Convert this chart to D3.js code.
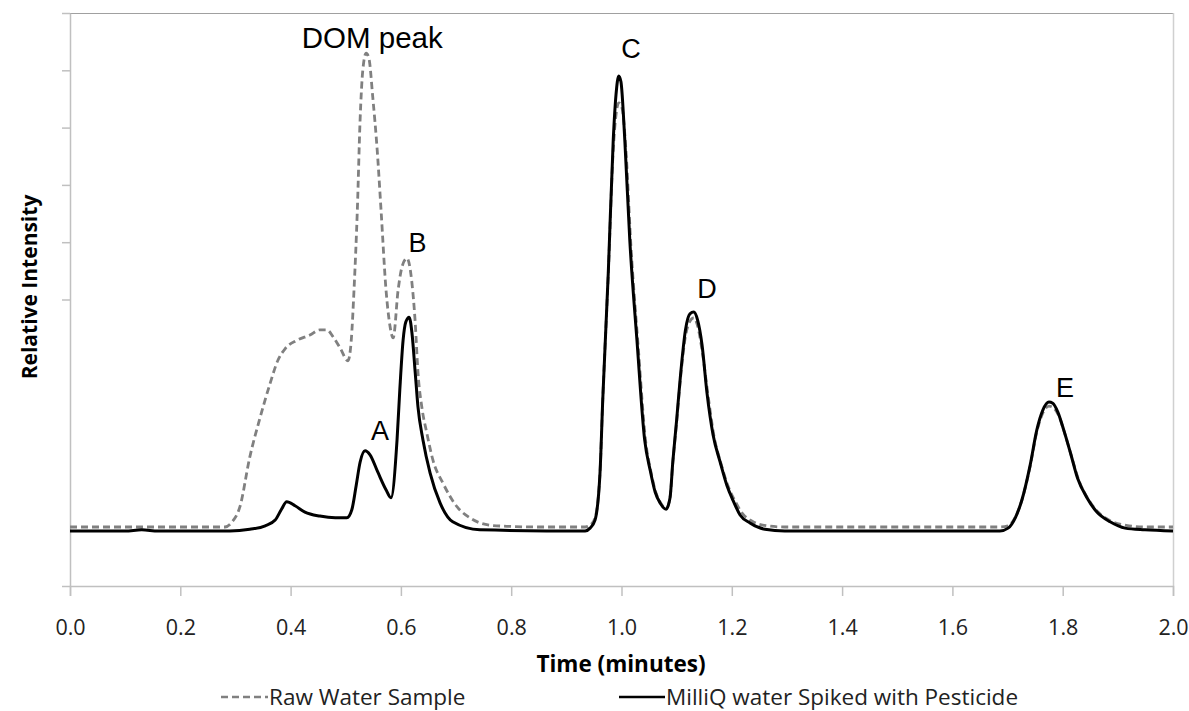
<!DOCTYPE html>
<html>
<head>
<meta charset="utf-8">
<script src="https://cdn.jsdelivr.net/npm/d3@7/dist/d3.min.js"></script>
<style>
  html, body { margin: 0; padding: 0; background: #ffffff; }
  svg { display: block; }
</style>
</head>
<body>
<svg id="chart" width="1189" height="711"></svg>
<script>
// ---- data (time in minutes, relative intensity) ----
const xTickValues = [0.0, 0.2, 0.4, 0.6, 0.8, 1.0, 1.2, 1.4, 1.6, 1.8, 2.0];
const yTickValues = [0, 5, 6, 7, 8, 9, 10];

const seriesNames = ["Raw Water Sample", "MilliQ water Spiked with Pesticide"];

const rawTime = [0, 0.281, 0.294, 0.308, 0.326, 0.345, 0.363, 0.377, 0.390, 0.412, 0.435, 0.453, 0.466, 0.477, 0.490, 0.504,
  0.510, 0.515, 0.521, 0.526, 0.531, 0.537, 0.542, 0.549, 0.557, 0.564, 0.573, 0.580, 0.586, 0.595, 0.602, 0.611,
  0.620, 0.626, 0.631, 0.638, 0.647, 0.658, 0.676, 0.702, 0.725, 0.762, 0.798, 0.852, 0.934,
  0.943, 0.952, 0.961, 0.966, 0.976, 0.985, 0.990, 0.995, 1.001, 1.008, 1.017, 1.030, 1.044, 1.053, 1.062, 1.071, 1.081,
  1.088, 1.093, 1.100, 1.107, 1.116, 1.124, 1.131, 1.138, 1.146, 1.157, 1.168, 1.180, 1.193, 1.206, 1.219, 1.237, 1.264, 1.296,
  1.686, 1.701, 1.714, 1.726, 1.741, 1.753, 1.764, 1.775, 1.782, 1.793, 1.804, 1.817, 1.829, 1.846, 1.864, 1.888, 1.915, 1.949, 2.0];
const rawValue = [1.03, 1.03, 1.12, 1.38, 2.25, 2.95, 3.54, 3.94, 4.14, 4.29, 4.38, 4.47, 4.47, 4.35, 4.15, 3.93,
  4.29, 5.17, 6.56, 8.13, 9.01, 9.30, 9.21, 8.53, 7.61, 6.56, 5.17, 4.55, 4.33, 5.17, 5.57, 5.72,
  5.29, 4.59, 3.72, 3.12, 2.67, 2.20, 1.80, 1.38, 1.19, 1.06, 1.04, 1.03, 1.03,
  1.06, 1.19, 1.97, 3.25, 5.43, 7.61, 8.22, 8.43, 8.34, 7.61, 5.95, 4.21, 2.51, 2.01, 1.64, 1.45, 1.36,
  1.54, 2.15, 2.86, 3.63, 4.36, 4.62, 4.68, 4.54, 4.12, 3.32, 2.60, 2.15, 1.75, 1.48, 1.27, 1.13, 1.05, 1.03,
  1.03, 1.05, 1.20, 1.50, 2.09, 2.69, 3.02, 3.14, 3.12, 2.97, 2.65, 2.23, 1.85, 1.52, 1.29, 1.13, 1.06, 1.03, 1.03];

const spikedTime = [0, 0.10, 0.13, 0.16, 0.290, 0.326, 0.354, 0.372, 0.383, 0.393, 0.408, 0.426, 0.453, 0.481, 0.502,
  0.511, 0.519, 0.526, 0.535, 0.544, 0.558, 0.573, 0.582, 0.593, 0.598, 0.604, 0.609, 0.615,
  0.620, 0.626, 0.631, 0.640, 0.653, 0.671, 0.694, 0.743, 0.934,
  0.943, 0.952, 0.961, 0.966, 0.976, 0.985, 0.990, 0.995, 0.999, 1.006, 1.015, 1.028, 1.042, 1.052, 1.061, 1.070, 1.081,
  1.088, 1.093, 1.100, 1.107, 1.116, 1.124, 1.131, 1.138, 1.146, 1.155, 1.166, 1.179, 1.191, 1.202, 1.215, 1.233, 1.260, 1.296,
  1.686, 1.701, 1.714, 1.726, 1.741, 1.753, 1.764, 1.775, 1.782, 1.791, 1.802, 1.815, 1.827, 1.844, 1.862, 1.886, 1.913, 1.949, 2.0];
const spikedValue = [0.96, 0.96, 0.98, 0.96, 0.96, 0.99, 1.05, 1.15, 1.33, 1.47, 1.40, 1.29, 1.22, 1.19, 1.19,
  1.33, 1.76, 2.16, 2.36, 2.29, 1.99, 1.68, 1.54, 2.55, 3.42, 4.29, 4.61, 4.69,
  4.42, 3.72, 3.12, 2.55, 1.97, 1.45, 1.12, 0.98, 0.96,
  1.01, 1.15, 1.97, 3.25, 5.46, 7.78, 8.57, 8.90, 8.80, 7.78, 6.04, 4.29, 2.55, 2.02, 1.64, 1.45, 1.34,
  1.54, 2.16, 2.90, 3.68, 4.47, 4.75, 4.78, 4.64, 4.21, 3.37, 2.64, 2.16, 1.76, 1.50, 1.24, 1.10, 0.99, 0.96,
  0.96, 1.01, 1.19, 1.50, 2.11, 2.72, 3.07, 3.21, 3.19, 3.04, 2.72, 2.29, 1.88, 1.54, 1.29, 1.12, 1.01, 0.98, 0.96];

const peakLabels = ["DOM peak", "A", "B", "C", "D", "E"];
const peakLabelTime = [0.548, 0.562, 0.630, 1.017, 1.155, 1.804];
const peakLabelValue = [9.39, 2.55, 5.83, 9.21, 5.03, 3.30];

// ---- layout ----
const svg = d3.select("#chart");
const mLeft = 70, mRight = 1173, mTop = 13, mBottom = 586;

const x = d3.scaleLinear().domain([0, 2]).range([mLeft, mRight]);
const y = d3.scaleLinear().domain([0, 10]).range([mBottom, mTop]);

const axisColor = "#c0c0c0";
const font = "'Open Sans', 'Noto Sans', sans-serif";

// plot border (top and right)
svg.append("line").attr("x1", mLeft).attr("x2", mRight).attr("y1", mTop + 0.5).attr("y2", mTop + 0.5)
  .attr("stroke", "#a0a0a0").attr("stroke-width", 1.2);
svg.append("line").attr("x1", mRight + 0.5).attr("x2", mRight + 0.5).attr("y1", mTop).attr("y2", mBottom)
  .attr("stroke", "#d0d0d0").attr("stroke-width", 1.5);

// x axis
const xAxis = svg.append("g").attr("transform", `translate(0,${mBottom})`)
  .call(d3.axisBottom(x).tickValues(xTickValues).tickFormat(d3.format(".1f")).tickSize(10).tickPadding(24));
xAxis.select(".domain").attr("stroke", axisColor).attr("stroke-width", 1.5);
xAxis.selectAll(".tick line").attr("stroke", axisColor).attr("stroke-width", 1.5);
xAxis.selectAll("text").attr("font-family", font).attr("font-size", 21.5).attr("fill", "#222");

// y axis (no labels)
const yAxis = svg.append("g").attr("transform", `translate(${mLeft},0)`)
  .call(d3.axisLeft(y).tickValues(yTickValues).tickFormat("").tickSizeInner(8).tickSizeOuter(0));
yAxis.select(".domain").attr("stroke", axisColor).attr("stroke-width", 1.5);
yAxis.selectAll(".tick line").attr("stroke", axisColor).attr("stroke-width", 1.5);

// lines
const line = d3.line().x(d => x(d[0])).y(d => y(d[1])).curve(d3.curveMonotoneX);
const rawData = rawTime.map((t, i) => [t, rawValue[i]]);
const spikedData = spikedTime.map((t, i) => [t, spikedValue[i]]);

svg.append("path").datum(rawData).attr("d", line)
  .attr("fill", "none").attr("stroke", "#808080").attr("stroke-width", 2.8)
  .attr("stroke-dasharray", "7,4");
svg.append("path").datum(spikedData).attr("d", line)
  .attr("fill", "none").attr("stroke", "#000").attr("stroke-width", 3);

// peak labels
svg.append("g").selectAll("text").data(peakLabels).join("text")
  .attr("x", (d, i) => x(peakLabelTime[i]))
  .attr("y", (d, i) => y(peakLabelValue[i]))
  .attr("text-anchor", "middle")
  .attr("font-family", "'Liberation Sans', Arial, sans-serif")
  .attr("font-size", (d, i) => i === 0 ? 29.5 : 27)
  .attr("fill", "#000")
  .text(d => d);

// axis titles
svg.append("text").attr("x", 621).attr("y", 672)
  .attr("text-anchor", "middle").attr("font-family", font).attr("font-weight", "bold")
  .attr("font-size", 22.5).attr("fill", "#000").text("Time (minutes)");
svg.append("text").attr("transform", `translate(37,287) rotate(-90)`)
  .attr("text-anchor", "middle").attr("font-family", font).attr("font-weight", "bold")
  .attr("font-size", 21).attr("fill", "#000").text("Relative Intensity");

// legend
const legY = 697;
svg.append("line").attr("x1", 221).attr("x2", 268).attr("y1", legY).attr("y2", legY)
  .attr("stroke", "#808080").attr("stroke-width", 2.6).attr("stroke-dasharray", "7,4");
svg.append("text").attr("x", 269).attr("y", legY + 8).attr("font-family", font).attr("font-size", 22.5)
  .attr("fill", "#222").text(seriesNames[0]);
svg.append("line").attr("x1", 619).attr("x2", 665).attr("y1", legY).attr("y2", legY)
  .attr("stroke", "#000").attr("stroke-width", 2.6);
svg.append("text").attr("x", 666).attr("y", legY + 8).attr("font-family", font).attr("font-size", 22.5)
  .attr("fill", "#222").text(seriesNames[1]);
</script>
</body>
</html>
